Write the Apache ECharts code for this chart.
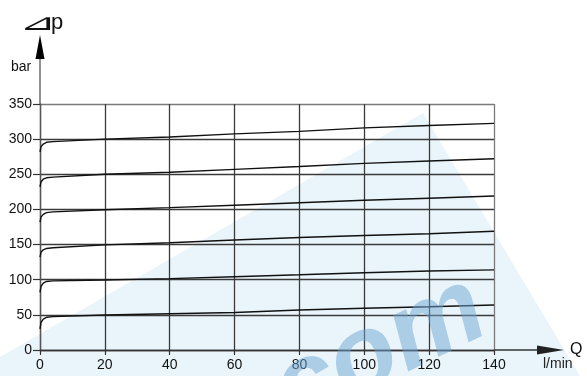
<!DOCTYPE html>
<html>
<head>
<meta charset="utf-8">
<script src="https://cdn.jsdelivr.net/npm/echarts@6/dist/echarts.min.js"></script>
<style>
  html, body { margin: 0; padding: 0; background: #fff; }
  #chart { width: 587px; height: 376px; }
</style>
</head>
<body>
<div id="chart"></div>
<script>
// Flow Q (l/min) sample points shared by every pressure curve
const flowPoints = [0, 0.3, 1, 2, 4, 20, 40, 60, 80, 100, 120, 140];

// Pressure drop (bar) for each pressure setting
const curve300 = [282, 289, 293, 295.5, 296.5, 300, 303, 307.5, 311, 316, 319.5, 322.5];
const curve250 = [232, 239, 243, 245, 246, 250, 253, 257, 261, 265.5, 269, 272];
const curve200 = [182, 189, 193, 195.5, 196.5, 199.5, 202.5, 206, 209.5, 213, 216, 219];
const curve150 = [132, 139, 142.5, 144.5, 145.5, 149.5, 152.5, 156.5, 160, 163, 165.5, 169];
const curve100 = [82, 90, 95, 97.5, 98.3, 99.6, 101.5, 104.3, 107, 110, 112.4, 114];
const curve50  = [30, 39, 44, 46.5, 47.5, 49.8, 51.5, 53.4, 57, 59.3, 61.6, 64];

const pressureCurves = [curve300, curve250, curve200, curve150, curve100, curve50];

// Axis tick values
const xTicks = [0, 20, 40, 60, 80, 100, 120, 140];
const yTicks = [0, 50, 100, 150, 200, 250, 300, 350];

const FONT = 'Liberation Sans';
const chart = echarts.init(document.getElementById('chart'), null, { renderer: 'canvas' });

const gridLeft = 40, gridTop = 104, gridW = 454, gridH = 246;
const gridRight = gridLeft + gridW, gridBottom = gridTop + gridH;

const ySplitColors = yTicks.map((v, i) => i === yTicks.length - 1 ? '#7a7a7a' : '#3a3a3a');
const xSplitColors = xTicks.map((v, i) => i === xTicks.length - 1 ? '#7a7a7a' : '#3a3a3a');

const option = {
  animation: false,
  backgroundColor: '#fff',
  grid: { left: gridLeft, top: gridTop, width: gridW, height: gridH },
  xAxis: {
    type: 'value',
    min: xTicks[0], max: xTicks[xTicks.length - 1], interval: 20,
    axisLine: { lineStyle: { color: '#333', width: 1.3 } },
    axisTick: { length: 5, lineStyle: { color: '#333', width: 1.2 } },
    axisLabel: { color: '#111', fontFamily: FONT, fontSize: 14, margin: 8 },
    splitLine: { show: true, lineStyle: { color: xSplitColors, width: 1.3 } }
  },
  yAxis: {
    type: 'value',
    min: yTicks[0], max: yTicks[yTicks.length - 1], interval: 50,
    axisLine: { show: true, lineStyle: { color: '#555', width: 1.3 } },
    axisTick: { show: true, length: 7, lineStyle: { color: '#333', width: 1.2 } },
    axisLabel: { color: '#111', fontFamily: FONT, fontSize: 14, margin: 8 },
    splitLine: { show: true, lineStyle: { color: ySplitColors, width: 1.3 } }
  },
  series: pressureCurves.map(vals => ({
    type: 'line',
    data: flowPoints.map((q, i) => [q, vals[i]]),
    showSymbol: false,
    smooth: false,
    lineStyle: { color: '#111', width: 1.4 },
    z: 3
  })),
  graphic: [
    // pale wedge in the background
    {
      type: 'polygon', z: -10, silent: true,
      shape: { points: [[0, 357], [423, 113], [580, 376], [0, 376]] },
      style: { fill: '#eaf5fb' }
    },
    // extended Δp axis with arrowhead
    {
      type: 'line', z: 5,
      shape: { x1: gridLeft, y1: gridTop, x2: gridLeft, y2: 56 },
      style: { stroke: '#555', lineWidth: 1.3 }
    },
    {
      type: 'polygon', z: 5,
      shape: { points: [[gridLeft - 4.5, 59], [gridLeft, 35], [gridLeft + 4.5, 59]] },
      style: { fill: '#000' }
    },
    // extended Q axis with arrowhead
    {
      type: 'line', z: 5,
      shape: { x1: gridRight, y1: gridBottom, x2: 540, y2: gridBottom },
      style: { stroke: '#333', lineWidth: 1.3 }
    },
    {
      type: 'polygon', z: 5,
      shape: { points: [[537, gridBottom - 4.5], [564, gridBottom], [537, gridBottom + 4.5]] },
      style: { fill: '#222' }
    },
    // axis titles
    {
      type: 'text', z: 5, x: 19, y: 13, scaleX: 1.85, scaleY: 0.95,
      style: { text: '⊿', fontFamily: 'DejaVu Sans', fontSize: 24, fill: '#111' }
    },
    {
      type: 'text', z: 5, x: 51, y: 12,
      style: { text: 'p', fontFamily: FONT, fontSize: 22, fill: '#111' }
    },
    {
      type: 'text', z: 5, x: 11, y: 60,
      style: { text: 'bar', fontFamily: FONT, fontSize: 14, fill: '#111' }
    },
    {
      type: 'text', z: 5, x: 570, y: 342,
      style: { text: 'Q', fontFamily: FONT, fontSize: 16, fill: '#111' }
    },
    {
      type: 'text', z: 5, x: 543, y: 357,
      style: { text: 'l/min', fontFamily: FONT, fontSize: 14, fill: '#222' }
    },
    // watermark lettering
    {
      type: 'text', z: 20, silent: true, x: 380, y: 352, rotation: 0.45,
      style: {
        text: 'com', align: 'center', verticalAlign: 'middle',
        fontFamily: FONT, fontSize: 108, fontWeight: 'bold', fontStyle: 'italic',
        fill: 'rgba(110,165,210,0.5)'
      }
    }
  ]
};

chart.setOption(option);
</script>
</body>
</html>
